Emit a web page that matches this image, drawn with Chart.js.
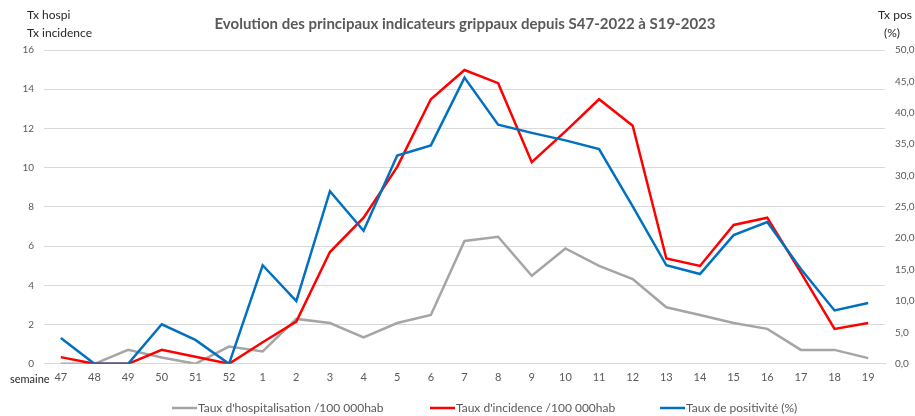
<!DOCTYPE html>
<html>
<head>
<meta charset="utf-8">
<script src="https://cdn.jsdelivr.net/npm/chart.js@4"></script>
<style>
    body { margin: 0; background: #fff; }
    #wrap { width: 915px; height: 416px; }
</style>
</head>
<body>
<div id="wrap"><canvas id="grippe-chart" width="915" height="416"></canvas></div>
<script>
const semaines = ['47', '48', '49', '50', '51', '52', '1', '2', '3', '4', '5', '6', '7', '8', '9', '10', '11', '12', '13', '14', '15', '16', '17', '18', '19']

const tauxHospi = [0, 0, 0.71, 0.32, 0, 0.88, 0.63, 2.29, 2.08, 1.35, 2.08, 2.49, 6.26, 6.48, 4.49, 5.88, 4.99, 4.32, 2.88, 2.49, 2.08, 1.78, 0.71, 0.71, 0.29]
const tauxIncidence = [0.34, 0, 0, 0.71, 0.36, 0, 1.10, 2.15, 5.70, 7.45, 10.04, 13.49, 14.98, 14.31, 10.28, 11.85, 13.49, 12.14, 5.37, 4.99, 7.08, 7.45, 4.65, 1.78, 2.08]
const tauxPositivite = [4.1, 0, 0, 6.3, 3.8, 0, 15.7, 10.0, 27.5, 21.2, 33.2, 34.8, 45.6, 38.1, 36.8, 35.6, 34.2, 25.1, 15.7, 14.3, 20.5, 22.6, 15.1, 8.5, 9.7]

const titre = 'Evolution des principaux indicateurs grippaux depuis S47-2022 à S19-2023'
const fontName = 'Lato, "Open Sans", sans-serif'

// titles + legend drawn by hand, Excel style
const extraText = {
    id: 'extraText',
    afterDraw(chart) {
        const c = chart.ctx
        c.save()
        c.textBaseline = 'middle'

        c.font = 'bold 15px ' + fontName
        c.fillStyle = '#595959'
        c.textAlign = 'center'
        c.fillText(titre, 465, 24)

        c.font = '12px ' + fontName
        c.fillStyle = '#262626'
        c.textAlign = 'left'
        c.fillText('Tx hospi', 27, 15)
        c.fillText('Tx incidence', 27, 33)

        c.textAlign = 'center'
        c.fillText('Tx pos', 895, 15)
        c.fillText('(%)', 892, 33)

        c.font = '11px ' + fontName
        c.textAlign = 'left'
        c.fillText('semaine', 10, 379)

        // legend
        const legendX = [172, 430, 660]
        c.font = '12px ' + fontName
        chart.data.datasets.forEach((ds, i) => {
            const x = legendX[i]
            c.strokeStyle = ds.borderColor
            c.lineWidth = 2.5
            c.beginPath()
            c.moveTo(x, 408)
            c.lineTo(x + 25, 408)
            c.stroke()
            c.fillStyle = '#595959'
            c.fillText(ds.label, x + 26, 408)
        })
        c.restore()
    }
}

var ctx = document.getElementById('grippe-chart')
var myChart = new Chart(ctx, {
    type: 'line',
    data: {
        labels: semaines,
        datasets: [{
            label: "Taux d'hospitalisation /100 000hab",
            data: tauxHospi,
            borderColor: '#a5a5a5',
            yAxisID: 'y',
            order: 3
        }, {
            label: "Taux d'incidence /100 000hab",
            data: tauxIncidence,
            borderColor: '#ff0000',
            yAxisID: 'y',
            order: 2
        }, {
            label: 'Taux de positivité (%)',
            data: tauxPositivite,
            borderColor: '#0070c0',
            yAxisID: 'y1',
            order: 1
        }]
    },
    options: {
        responsive: false,
        animation: false,
        layout: {
            padding: { top: 50, bottom: 25, left: 0, right: 0 }
        },
        elements: {
            line: { borderWidth: 2.5, tension: 0 },
            point: { radius: 0 }
        },
        plugins: {
            tooltip: { enabled: false },
            legend: { display: false }
        },
        scales: {
            x: {
                offset: true,
                grid: { display: false, drawTicks: false },
                border: { display: true, color: '#d9d9d9' },
                ticks: {
                    color: '#595959',
                    font: { family: fontName, size: 11 },
                    maxRotation: 0,
                    autoSkip: false,
                    padding: 7
                }
            },
            y: {
                position: 'left',
                min: 0,
                max: 16,
                afterFit: scale => { scale.width = 44 },
                grid: { color: '#d9d9d9', drawTicks: false },
                border: { display: false },
                ticks: {
                    stepSize: 2,
                    color: '#595959',
                    padding: 10,
                    font: { family: fontName, size: 10 }
                }
            },
            y1: {
                position: 'right',
                min: 0,
                max: 50,
                afterFit: scale => { scale.width = 30 },
                grid: { drawOnChartArea: false, drawTicks: false },
                border: { display: false },
                ticks: {
                    stepSize: 5,
                    color: '#595959',
                    padding: 10,
                    font: { family: fontName, size: 10 },
                    callback: function (value) { return value.toFixed(1).replace('.', ',') }
                }
            }
        }
    },
    plugins: [extraText]
})
</script>
</body>
</html>
